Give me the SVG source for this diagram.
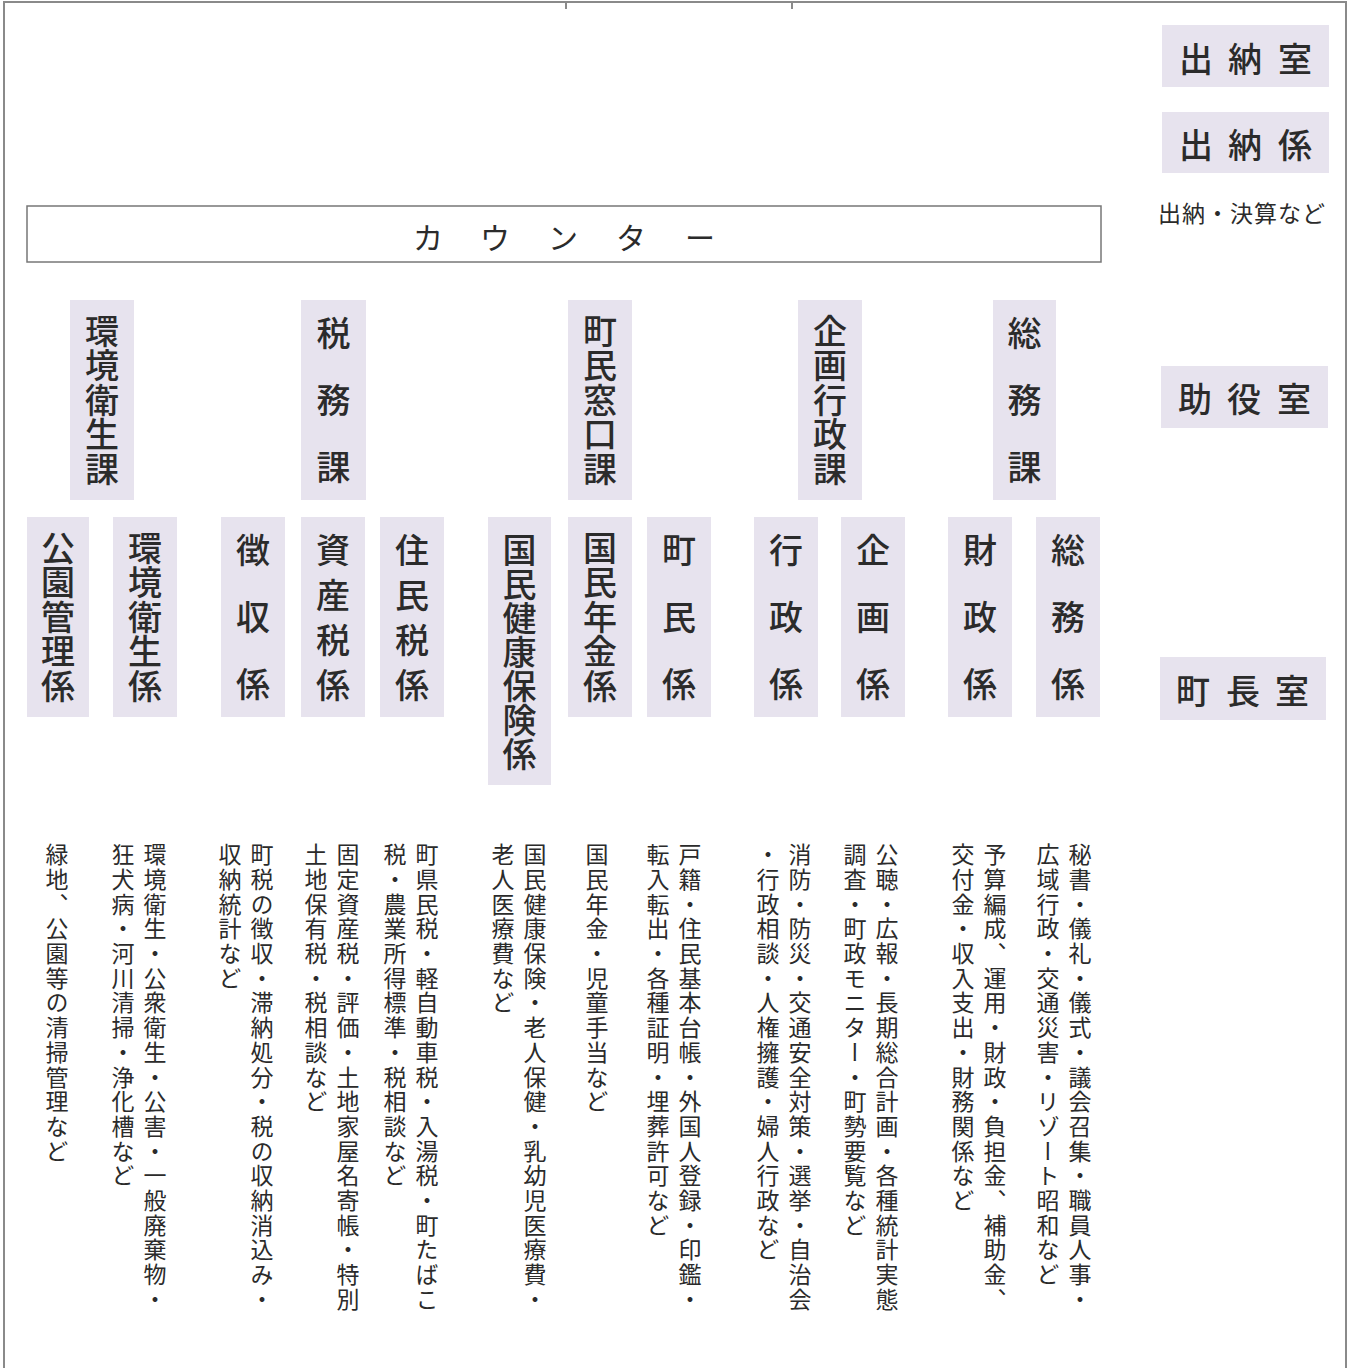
<svg xmlns="http://www.w3.org/2000/svg" width="1352" height="1368" viewBox="0 0 1352 1368">
<style>
.box{fill:#e7e3ee}
.t{font-family:"Noto Sans CJK JP","Noto Sans CJK SC",sans-serif;fill:#2b2b2b}
.v{writing-mode:vertical-rl}
.big{font-size:34px;font-weight:500}
.h{font-size:34px;font-weight:500;text-anchor:middle;dominant-baseline:central}
.desc{font-size:23px;letter-spacing:1.7px}
.frame{stroke:#8a8a8a;stroke-width:2;fill:none}
</style>
<rect width="1352" height="1368" fill="#ffffff"/>
<g id="frame">
<path class="frame" d="M4 1368 V2 H1346 V1368"/>
<path class="frame" d="M566 2 V9 M792 2 V9" stroke-width="1.2"/>
</g>
<g id="counter">
<rect x="27" y="206" width="1074" height="56" fill="#ffffff" stroke="#777" stroke-width="1.5"/>
<text class="t" font-size="30" text-anchor="middle" dominant-baseline="central" x="428 495 563 631 700" y="236">カウンター</text>
</g>
<g id="suitou-shitsu"><rect class="box" x="1162" y="25" width="167" height="62"/><text class="t h" x="1196 1245 1295" y="57">出納室</text></g>
<g id="suitou-kakari"><rect class="box" x="1162" y="112" width="167" height="61"/><text class="t h" x="1196 1245 1295" y="143">出納係</text>
<text class="t" font-size="23" dominant-baseline="central" x="1158" y="212" letter-spacing="1">出納・決算など</text></g>
<g id="joyaku-shitsu"><rect class="box" x="1161" y="366" width="167" height="62"/><text class="t h" x="1195 1244 1294" y="397">助役室</text></g>
<g id="chocho-shitsu"><rect class="box" x="1160" y="657" width="166" height="63"/><text class="t h" x="1193 1243 1292" y="689">町長室</text></g>

<g id="ka-kankyo"><rect class="box" x="70" y="300" width="64" height="200"/><text class="t v big" x="102" y="314" letter-spacing="0.4">環境衛生課</text></g>
<g id="ka-zeimu"><rect class="box" x="301" y="300" width="65" height="200"/><text class="t v big" x="333.5" y="316" letter-spacing="33">税務課</text></g>
<g id="ka-chomin"><rect class="box" x="568" y="300" width="64" height="200"/><text class="t v big" x="600" y="314" letter-spacing="0.4">町民窓口課</text></g>
<g id="ka-kikaku"><rect class="box" x="798" y="300" width="64" height="200"/><text class="t v big" x="830" y="314" letter-spacing="0.4">企画行政課</text></g>
<g id="ka-somu"><rect class="box" x="993" y="300" width="63" height="200"/><text class="t v big" x="1024.5" y="316" letter-spacing="33">総務課</text></g>

<g id="k-koen"><rect class="box" x="27" y="517" width="62" height="200"/><text class="t v big" x="58" y="531" letter-spacing="0.5">公園管理係</text></g>
<g id="k-kankyo"><rect class="box" x="113" y="517" width="64" height="200"/><text class="t v big" x="145" y="531" letter-spacing="0.5">環境衛生係</text></g>
<g id="k-choshu"><rect class="box" x="221" y="517" width="64" height="200"/><text class="t v big" x="253" y="533" letter-spacing="33">徴収係</text></g>
<g id="k-shisan"><rect class="box" x="301" y="517" width="64" height="200"/><text class="t v big" x="333" y="533" letter-spacing="11">資産税係</text></g>
<g id="k-jumin"><rect class="box" x="380" y="517" width="64" height="200"/><text class="t v big" x="412" y="533" letter-spacing="11">住民税係</text></g>
<g id="k-kokuho"><rect class="box" x="488" y="517" width="63" height="268"/><text class="t v big" x="519.5" y="533" letter-spacing="0">国民健康保険係</text></g>
<g id="k-nenkin"><rect class="box" x="568" y="517" width="64" height="200"/><text class="t v big" x="600" y="531" letter-spacing="0.5">国民年金係</text></g>
<g id="k-chomin"><rect class="box" x="647" y="517" width="64" height="200"/><text class="t v big" x="679" y="533" letter-spacing="33">町民係</text></g>
<g id="k-gyosei"><rect class="box" x="754" y="517" width="64" height="200"/><text class="t v big" x="786" y="533" letter-spacing="33">行政係</text></g>
<g id="k-kikaku"><rect class="box" x="841" y="517" width="64" height="200"/><text class="t v big" x="873" y="533" letter-spacing="33">企画係</text></g>
<g id="k-zaisei"><rect class="box" x="948" y="517" width="64" height="200"/><text class="t v big" x="980" y="533" letter-spacing="33">財政係</text></g>
<g id="k-somu"><rect class="box" x="1036" y="517" width="64" height="200"/><text class="t v big" x="1068" y="533" letter-spacing="33">総務係</text></g>

<g id="descriptions" class="t">
<text class="v desc" x="1080" y="843">秘書・儀礼・儀式・議会召集・職員人事・</text>
<text class="v desc" x="1048" y="843">広域行政・交通災害・リゾート昭和など</text>
<text class="v desc" x="995" y="843">予算編成、運用・財政・負担金、補助金、</text>
<text class="v desc" x="963" y="843">交付金・収入支出・財務関係など</text>
<text class="v desc" x="887" y="843">公聴・広報・長期総合計画・各種統計実態</text>
<text class="v desc" x="855" y="843">調査・町政モニター・町勢要覧など</text>
<text class="v desc" x="800" y="843">消防・防災・交通安全対策・選挙・自治会</text>
<text class="v desc" x="768" y="843">・行政相談・人権擁護・婦人行政など</text>
<text class="v desc" x="690" y="843">戸籍・住民基本台帳・外国人登録・印鑑・</text>
<text class="v desc" x="658" y="843">転入転出・各種証明・埋葬許可など</text>
<text class="v desc" x="597" y="843">国民年金・児童手当など</text>
<text class="v desc" x="535" y="843">国民健康保険・老人保健・乳幼児医療費・</text>
<text class="v desc" x="503" y="843">老人医療費など</text>
<text class="v desc" x="427" y="843">町県民税・軽自動車税・入湯税・町たばこ</text>
<text class="v desc" x="395" y="843">税・農業所得標準・税相談など</text>
<text class="v desc" x="348" y="843">固定資産税・評価・土地家屋名寄帳・特別</text>
<text class="v desc" x="316" y="843">土地保有税・税相談など</text>
<text class="v desc" x="262" y="843">町税の徴収・滞納処分・税の収納消込み・</text>
<text class="v desc" x="230" y="843">収納統計など</text>
<text class="v desc" x="155" y="843">環境衛生・公衆衛生・公害・一般廃棄物・</text>
<text class="v desc" x="123" y="843">狂犬病・河川清掃・浄化槽など</text>
<text class="v desc" x="57" y="843">緑地、公園等の清掃管理など</text>
</g>
</svg>
